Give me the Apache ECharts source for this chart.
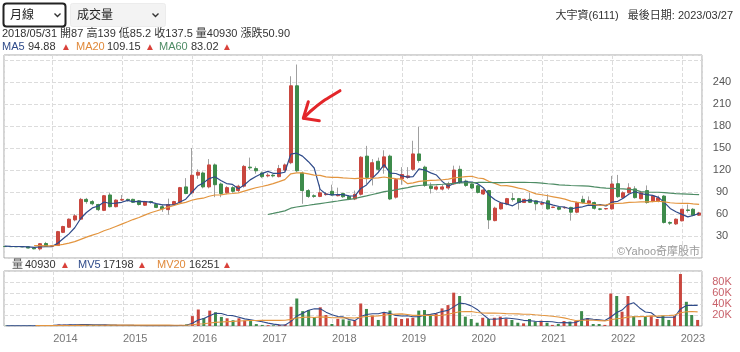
<!DOCTYPE html>
<html>
<head>
<meta charset="utf-8">
<script src="https://cdn.jsdelivr.net/npm/echarts@6/dist/echarts.min.js"></script>
<style>
html, body { margin: 0; padding: 0; background: #fff; }
#main { width: 740px; height: 352px; }
</style>
</head>
<body>
<div id="main"></div>
<script>
// monthly candles, first month 2013/04, last 2023/03
var firstMonth = [2013, 4];
var opens = [
    15.7, 15.6, 15.5, 15.4, 15.3, 13.6, 12.4, 19.8, 16.0,
    17, 35, 42, 52, 53, 80, 77, 73, 65, 86, 70, 79,
    80, 80, 78, 72, 77, 73, 70, 66, 73, 76, 97, 89,
    113, 116, 97, 127, 101, 89, 96, 92, 98, 124, 122, 116,
    112, 113, 111, 120, 130, 235, 116, 92, 85, 84, 86.5, 91,
    85, 88, 84, 80.5, 87, 139, 110, 132, 124, 139, 83, 108,
    110, 121, 142, 124, 98, 94, 94, 95.5, 101, 121, 105, 101,
    98.6, 87.3, 92, 51, 67, 73.5, 81, 81, 75.7, 80, 78, 73.5,
    78, 69, 69, 68.5, 69, 62.5, 80, 75, 75.7, 67, 67, 67,
    101.4, 82.4, 89, 94.3, 80.9, 92, 77.8, 78, 84.5, 48.5, 46.5, 50.7,
    65.6, 66.5, 58.4
];
var closes = [
    15.6, 15.5, 15.4, 15.3, 13.6, 12.5, 19.5, 15.8, 16.8,
    36, 43, 53, 57.5, 80, 77, 74, 66, 85, 70, 79, 80,
    79, 76, 73, 77, 76, 69, 67, 73, 77, 96, 88, 113,
    117, 97, 127, 100, 88, 96, 91, 98, 125, 123, 119, 111,
    113, 112, 122, 127, 235, 119, 92, 84, 84, 89, 87.5, 86,
    86, 83.6, 80.5, 86.8, 137.5, 110, 130, 121, 138, 80.5, 107, 114,
    112, 142, 133, 99, 95, 97, 97, 101, 120, 103, 99, 95.5,
    89.5, 92.7, 52, 68, 75, 81, 80, 75.7, 80, 76, 74, 74.5,
    67, 69.5, 66.5, 69, 62.5, 75.7, 75.7, 78, 67.8, 66.5, 67.5, 101,
    83.7, 89, 95.7, 82.4, 89, 75.7, 84.5, 82, 48.5, 47.5, 53, 66.5,
    64.8, 58.4, 61.5
];
var lows = [
    15.3, 15.2, 15.0, 14.8, 13.2, 11.8, 10.2, 15.0, 15.5,
    16.5, 34, 41, 50, 52, 74, 72, 64, 64, 69, 69, 78,
    77, 75, 71.5, 71, 74, 68, 63, 59, 72, 75, 87, 87,
    108, 95, 95, 83, 83, 87, 89, 90, 96, 120, 115, 109,
    110, 110, 110, 118, 128, 117, 74, 82, 82, 83, 85, 85,
    84, 82, 79, 79, 85.2, 101, 99, 118, 115, 79, 81, 100,
    108, 119, 130, 97, 88, 92, 92, 93, 100, 101, 97, 94,
    88, 86, 39.6, 50, 66, 72, 77, 66, 75, 75, 65, 72,
    66, 68, 65, 67, 51, 61, 74, 73, 66, 65, 66, 66,
    82, 81, 88, 81, 80, 74, 76, 76, 47, 45, 45, 50,
    62, 57, 57.5
];
var highs = [
    16.0, 15.9, 15.8, 15.6, 15.6, 14.0, 20.0, 22.0, 17.5,
    37, 44, 54, 60, 82, 82, 79, 74, 86, 89, 80, 86,
    81, 81, 79, 78, 78, 74, 73, 81, 78, 97, 109, 150,
    121, 118, 135, 129, 103, 98, 98, 100, 127, 137, 125, 118,
    116, 115, 127, 129, 248, 264, 118, 94, 87, 100, 90, 100,
    96, 89, 85, 92, 139, 153, 135, 137, 147, 141, 109, 124,
    124, 160, 179, 126, 103, 99, 100, 104, 126, 126, 107, 102,
    100, 95, 93, 70, 76, 82, 89, 82, 81, 89, 79, 78,
    87, 70, 70, 70, 70, 77, 85, 84, 77, 68, 68, 112,
    113.4, 91, 102, 98, 90, 99, 86, 85, 86, 50, 54, 67,
    73, 68, 63
];
var volumes = [
    600, 500, 400, 400, 700, 600, 1800, 1500, 900,
    2800, 2500, 2600, 2200, 3200, 2200, 1600, 1300, 2200, 1800, 1200, 1000,
    800, 700, 700, 600, 500, 600, 700, 900, 800, 2000, 3000, 18000,
    30000, 14500, 28000, 25000, 16500, 14000, 10500, 14000, 10000, 9000, 3500, 2000,
    1500, 1200, 1800, 2500, 35000, 50000, 27000, 29000, 16000, 34000, 20000, 3600,
    13000, 12000, 10000, 10000, 40930, 31000, 18800, 11000, 24000, 28000, 15000, 12700,
    14000, 15000, 28000, 29000, 20000, 23000, 32000, 38000, 60600, 54500, 17000, 12700,
    6000, 15000, 12700, 15000, 17000, 12700, 11000, 6000, 4800, 12700, 8000, 9700,
    6000, 2000, 3600, 9000, 8000, 9000, 27000, 14000, 3600, 3600, 2000, 59000,
    54500, 26000, 54500, 18000, 11000, 18000, 19000, 12700, 19000, 11000, 18000, 94500,
    44000, 20000, 11000
];
// months before the visible window (2012/02 - 2013/03), only feed the averages
var earlyCloses = [20, 19.5, 19.2, 18.8, 18.5, 18.3, 17.9, 17.6, 17.4, 17, 16.7, 16.3, 16.1, 15.8];
var earlyVolumes = [800, 700, 900, 600, 700, 500, 600, 800, 700, 600, 500, 600, 700, 500];

var priceTicks = [30, 60, 90, 120, 150, 180, 210, 240];
var volTicks = [20000, 40000, 60000, 80000];

var UP = '#c9473f', DOWN = '#3e8b4b';
var FONT = "'Liberation Sans', Arial, 'Noto Sans CJK TC', sans-serif";

// month end timestamps
var dates = closes.map(function (c, i) {
    var m = firstMonth[1] - 1 + i;
    return new Date(firstMonth[0] + Math.floor(m / 12), (m % 12) + 1, 0).getTime();
});

function movingAvg(arr, n, skip) {
    var out = [];
    for (var i = skip; i < arr.length; i++) {
        if (i < n - 1) { out.push(null); continue; }
        var s = 0;
        for (var k = i - n + 1; k <= i; k++) s += arr[k];
        out.push(+(s / n).toFixed(2));
    }
    return out;
}
var allCloses = earlyCloses.concat(closes);
var allVols = earlyVolumes.concat(volumes);
var ma5 = movingAvg(allCloses, 5, earlyCloses.length);
var ma20 = movingAvg(allCloses, 20, earlyCloses.length);
var ma60 = movingAvg(allCloses, 60, earlyCloses.length);
var mv5 = movingAvg(allVols, 5, earlyVolumes.length);
var mv20 = movingAvg(allVols, 20, earlyVolumes.length);

function pair(arr) { return arr.map(function (v, i) { return [dates[i], v]; }); }

var wickData = dates.map(function (d, i) { return [d, opens[i], closes[i], lows[i], highs[i]]; });
var bodyData = dates.map(function (d, i) {
    return [d, opens[i], closes[i], Math.min(opens[i], closes[i]), Math.max(opens[i], closes[i])];
});
var volData = dates.map(function (d, i) {
    return { value: [d, volumes[i]], itemStyle: { color: closes[i] >= opens[i] ? UP : DOWN } };
});

var xMin = new Date(2013, 3, 26).getTime();
var xMax = new Date(2023, 3, 15).getTime();

function txt(x, y, text, color, size, align) {
    return {
        type: 'text', x: x, y: y, z: 100,
        style: { text: text, fill: color, font: (size || 11) + 'px ' + FONT, align: align || 'left', verticalAlign: 'middle' }
    };
}

var myChart = echarts.init(document.getElementById('main'));
var option = {
    animation: false,
    grid: [
        { left: 4, right: 38, top: 55, height: 203, show: true, borderColor: '#a8a8a8', borderWidth: 1 },
        { left: 4, right: 38, top: 271, height: 55, show: true, borderColor: '#a8a8a8', borderWidth: 1 }
    ],
    xAxis: [
        {
            type: 'time', gridIndex: 0, min: xMin, max: xMax, splitNumber: 8,
            axisLine: { show: false }, axisTick: { show: false }, axisLabel: { show: false },
            splitLine: { show: true, lineStyle: { color: '#dcdcdc', type: 'dashed' } }
        },
        {
            type: 'time', gridIndex: 1, min: xMin, max: xMax, splitNumber: 8,
            axisLine: { show: false }, axisTick: { show: false },
            axisLabel: { formatter: '{yyyy}', color: '#777', fontSize: 11, fontFamily: FONT, align: 'left', margin: 7, showMinLabel: false, showMaxLabel: false },
            splitLine: { show: true, lineStyle: { color: '#dcdcdc', type: 'dashed' } }
        }
    ],
    yAxis: [
        {
            type: 'value', gridIndex: 0, position: 'right', min: 0, max: 277, interval: 30,
            axisLine: { show: false }, axisTick: { show: false },
            axisLabel: {
                color: '#555', fontSize: 11, fontFamily: FONT, align: 'center', margin: 20,
                formatter: function (v) { return priceTicks.indexOf(v) >= 0 ? String(v) : ''; }
            },
            splitLine: { lineStyle: { color: '#dcdcdc', type: 'dashed' } }
        },
        {
            type: 'value', gridIndex: 1, position: 'right', min: 0, max: 100000, interval: 20000,
            axisLine: { show: false }, axisTick: { show: false },
            axisLabel: {
                color: '#c9626b', fontSize: 11, fontFamily: FONT, align: 'center', margin: 20,
                formatter: function (v) { return volTicks.indexOf(v) >= 0 ? (v / 1000) + 'K' : ''; }
            },
            splitLine: { lineStyle: { color: '#dcdcdc', type: 'dashed' } }
        }
    ],
    series: [
        {
            name: 'wick', type: 'candlestick', xAxisIndex: 0, yAxisIndex: 0,
            barWidth: 1, encode: { x: 0, y: [1, 2, 3, 4] },
            itemStyle: { color: '#a0a0a0', color0: '#a0a0a0', borderColor: '#a0a0a0', borderColor0: '#a0a0a0', borderWidth: 1 },
            data: wickData
        },
        {
            name: 'K', type: 'candlestick', xAxisIndex: 0, yAxisIndex: 0,
            barWidth: 3.5, encode: { x: 0, y: [1, 2, 3, 4] },
            itemStyle: { color: UP, color0: DOWN, borderColor: UP, borderColor0: DOWN, borderWidth: 1 },
            data: bodyData
        },
        {
            name: 'MA5', type: 'line', xAxisIndex: 0, yAxisIndex: 0, showSymbol: false, z: 5,
            lineStyle: { color: '#2f4b8a', width: 1.2 }, data: pair(ma5)
        },
        {
            name: 'MA20', type: 'line', xAxisIndex: 0, yAxisIndex: 0, showSymbol: false, z: 5,
            lineStyle: { color: '#e3953f', width: 1.2 }, data: pair(ma20)
        },
        {
            name: 'MA60', type: 'line', xAxisIndex: 0, yAxisIndex: 0, showSymbol: false, z: 5,
            lineStyle: { color: '#4e8c65', width: 1.2 }, data: pair(ma60)
        },
        {
            name: '量', type: 'bar', xAxisIndex: 1, yAxisIndex: 1, barWidth: 3,
            data: volData
        },
        {
            name: 'MV5', type: 'line', xAxisIndex: 1, yAxisIndex: 1, showSymbol: false, z: 5,
            lineStyle: { color: '#2f4b8a', width: 1.1 }, data: pair(mv5)
        },
        {
            name: 'MV20', type: 'line', xAxisIndex: 1, yAxisIndex: 1, showSymbol: false, z: 5,
            lineStyle: { color: '#e3953f', width: 1.1 }, data: pair(mv20)
        }
    ],
    graphic: [
        // select boxes
        { type: 'rect', shape: { x: 3.5, y: 3.5, width: 62, height: 23, r: 3 }, style: { fill: '#fff', stroke: '#222', lineWidth: 2 } },
        txt(10, 15.5, '月線', '#222', 12),
        { type: 'polyline', shape: { points: [[54.5, 13.5], [57.5, 16.5], [60.5, 13.5]] }, style: { stroke: '#333', lineWidth: 1.4, fill: null } },
        { type: 'rect', shape: { x: 70.5, y: 3.5, width: 95, height: 23, r: 2 }, style: { fill: '#f3f3f3', stroke: '#ececec', lineWidth: 1 } },
        txt(77, 15.5, '成交量', '#222', 12),
        { type: 'polyline', shape: { points: [[152.5, 13.5], [155.5, 16.5], [158.5, 13.5]] }, style: { stroke: '#333', lineWidth: 1.4, fill: null } },
        // header
        txt(733, 16, '大宇資(6111)   最後日期: 2023/03/27', '#333', 11, 'right'),
        txt(2, 34, '2018/05/31 開87 高139 低85.2 收137.5 量40930 漲跌50.90', '#333', 11),
        txt(2, 47, 'MA5', '#2f4b8a', 11), txt(28, 47, '94.88', '#333', 11), txt(61, 47, '▲', '#d9413a', 10),
        txt(76, 47, 'MA20', '#e0893a', 11), txt(107, 47, '109.15', '#333', 11), txt(145, 47, '▲', '#d9413a', 10),
        txt(159, 47, 'MA60', '#4e8c65', 11), txt(191, 47, '83.02', '#333', 11), txt(222, 47, '▲', '#d9413a', 10),
        // volume legend
        txt(12, 265, '量', '#555', 11), txt(25, 265, '40930', '#333', 11), txt(60, 265, '▲', '#d9413a', 10),
        txt(78, 265, 'MV5', '#2f4b8a', 11), txt(103, 265, '17198', '#333', 11), txt(137, 265, '▲', '#d9413a', 10),
        txt(157, 265, 'MV20', '#e0893a', 11), txt(189, 265, '16251', '#333', 11), txt(222, 265, '▲', '#d9413a', 10),
        // watermark
        txt(700, 252, '©Yahoo奇摩股市', '#9a9a9a', 11, 'right'),
        // red hand-drawn arrow
        { type: 'polyline', z: 120, shape: { points: [[340, 90.7], [333, 95], [322, 102], [312, 110], [303.5, 118]], smooth: 0.3 },
          style: { stroke: '#e3262a', lineWidth: 3, lineCap: 'round', fill: null } },
        { type: 'polyline', z: 120, shape: { points: [[308.3, 101.7], [303.3, 118.3], [319.3, 120.7]] },
          style: { stroke: '#e3262a', lineWidth: 3, lineCap: 'round', lineJoin: 'round', fill: null } }
    ]
};
myChart.setOption(option);
</script>
</body>
</html>
